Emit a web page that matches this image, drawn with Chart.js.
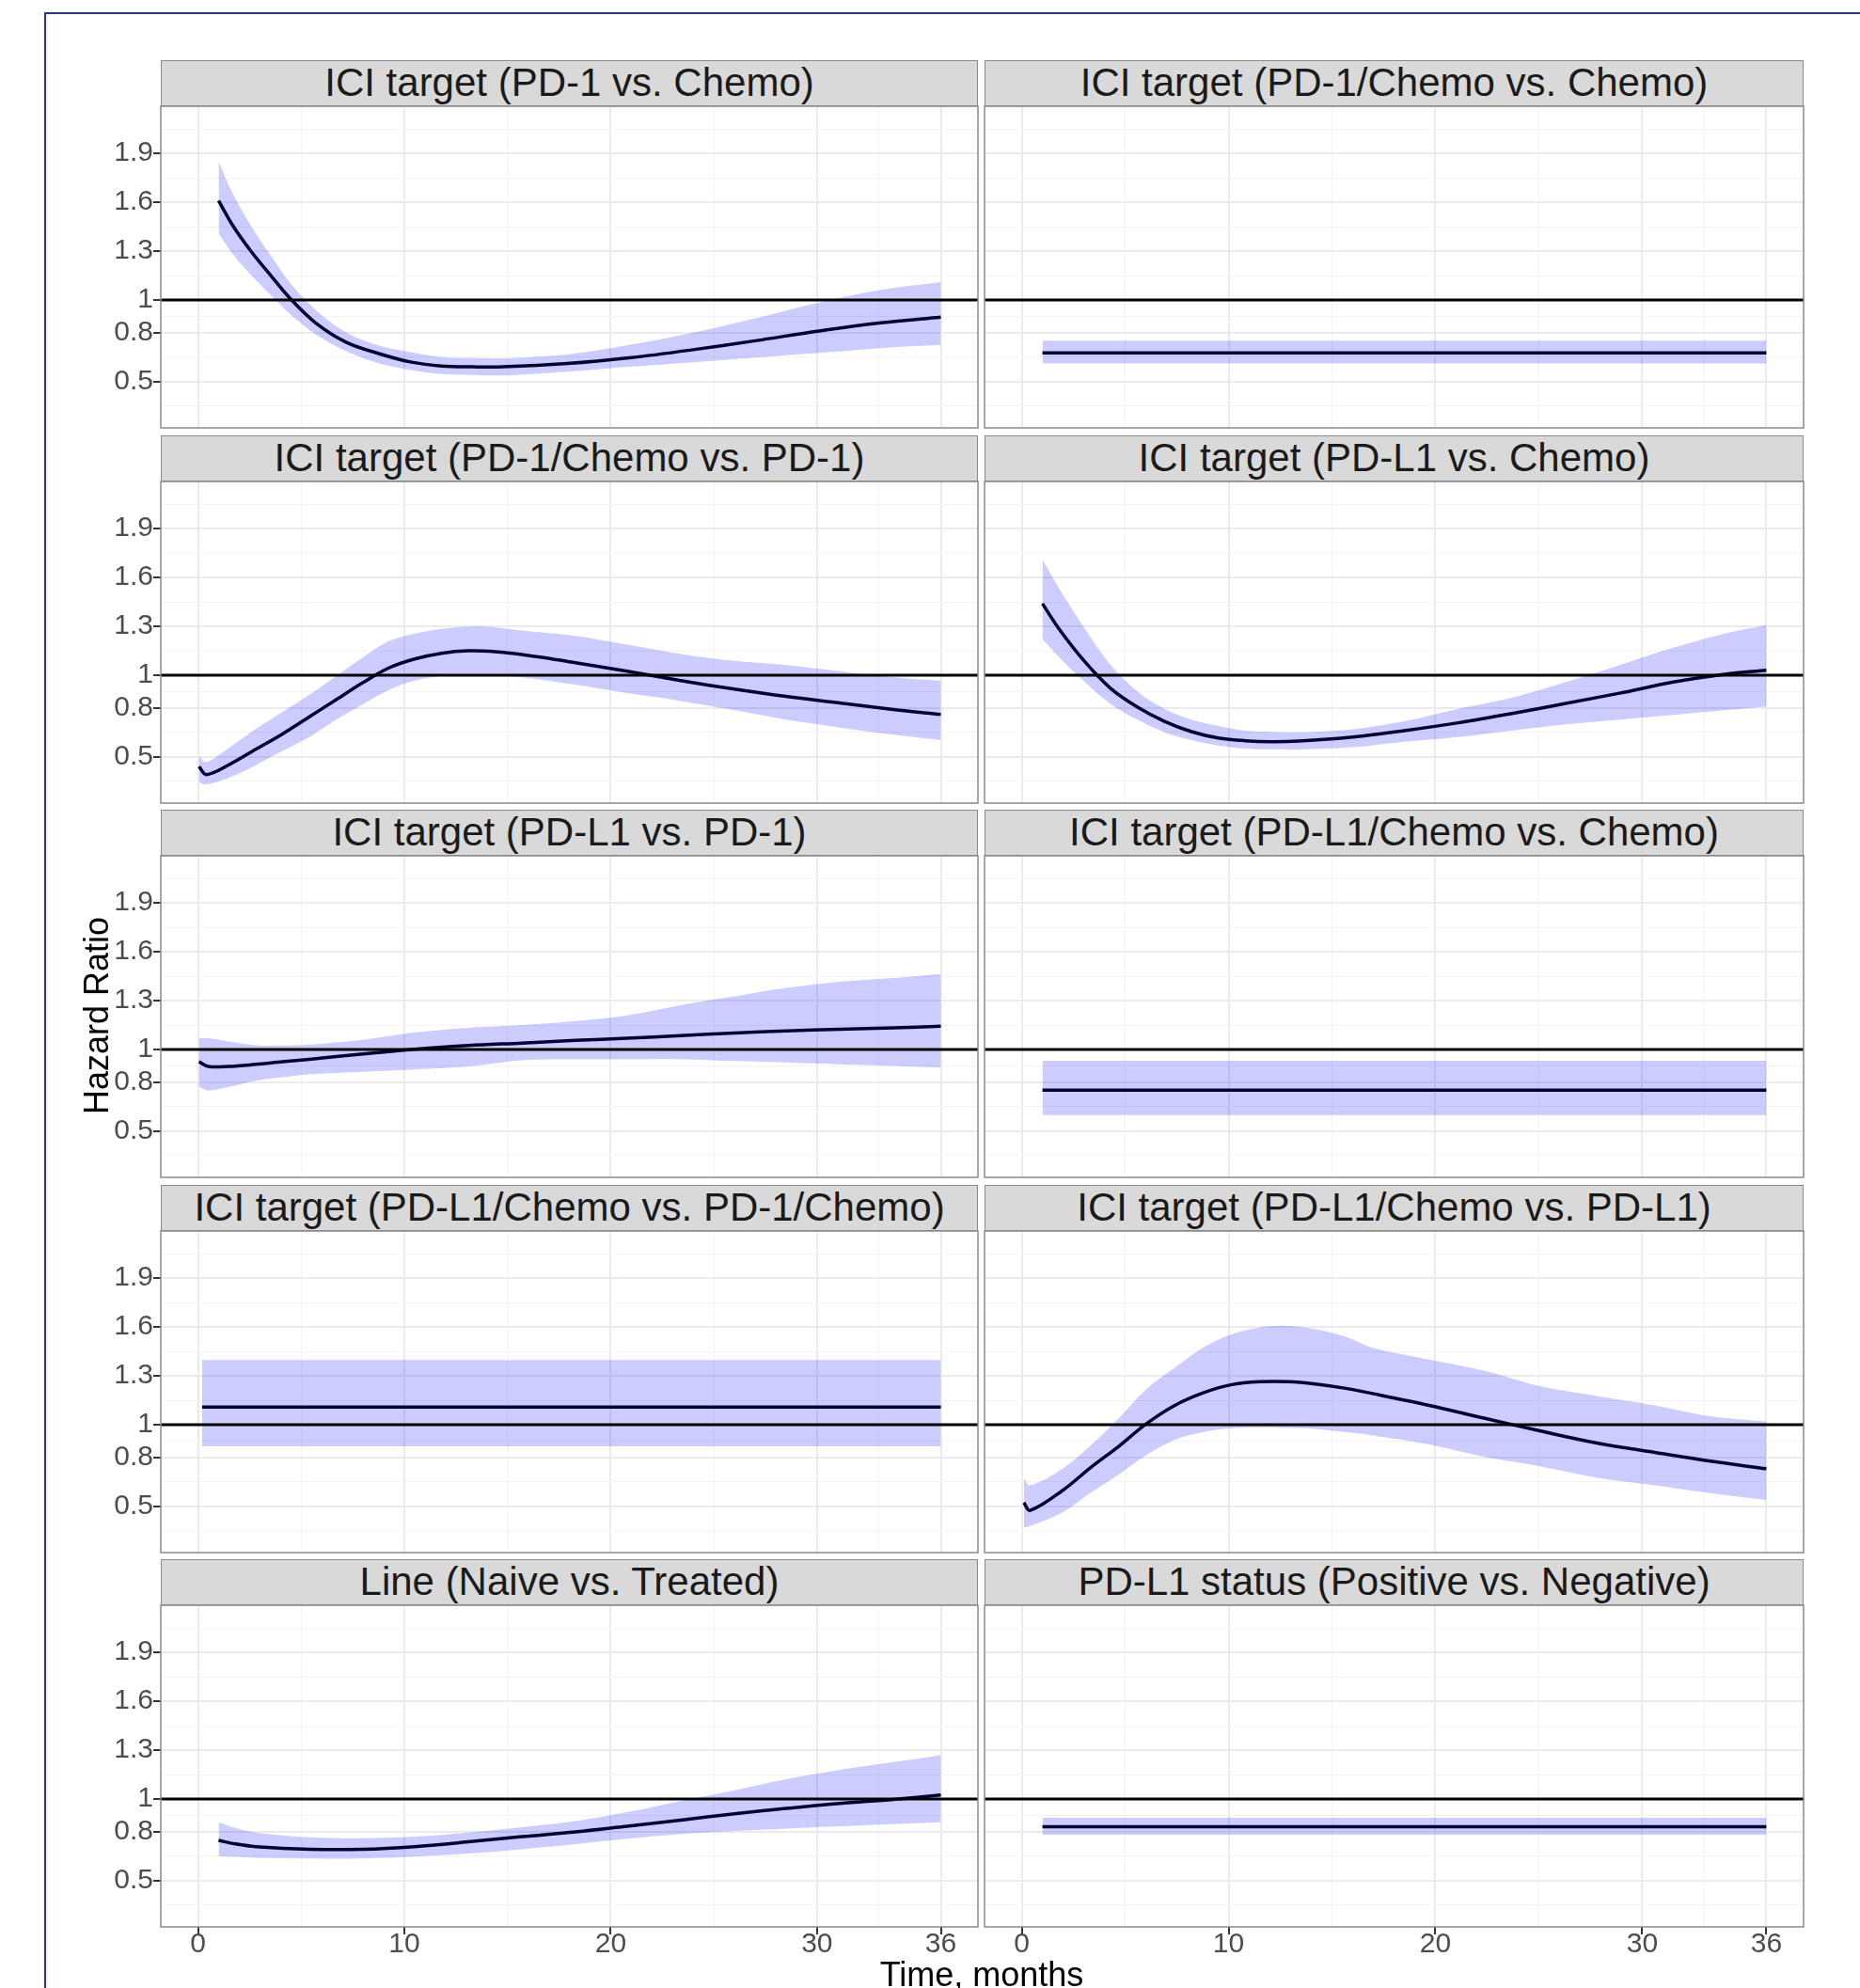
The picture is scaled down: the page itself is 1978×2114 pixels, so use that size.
<!DOCTYPE html>
<html>
<head>
<meta charset="utf-8">
<script src="https://cdn.jsdelivr.net/npm/chart.js@4.4.1/dist/chart.umd.min.js"></script>
<style>
html,body{margin:0;padding:0;background:#fff;width:1978px;height:2114px;overflow:hidden;font-family:'Liberation Sans',Arial,sans-serif;}
#frame{position:absolute;left:47px;top:13px;width:2000px;height:2200px;border:2px solid #2e3192;}
.strip{position:absolute;height:49px;background:#d9d9d9;border:1.5px solid #8a8a8a;box-sizing:border-box;text-align:center;font-size:42px;line-height:46px;color:#1a1a1a;white-space:nowrap;}
canvas{position:absolute;}
#ylab{position:absolute;left:103px;top:1080px;font-size:36px;line-height:36px;white-space:nowrap;color:#000;transform:translate(-50%,-50%) rotate(-90deg);}
#xlab{position:absolute;left:1044px;top:2082px;font-size:36px;line-height:36px;white-space:nowrap;color:#000;transform:translateX(-50%);}
</style>
</head>
<body>
<div id="frame"></div>
<div id="wrap"></div>
<div id="ylab">Hazard Ratio</div>
<div id="xlab">Time, months</div>
<script>
Chart.defaults.font.family = "'Liberation Sans', Arial, sans-serif";

// axis breaks (ggplot style major / minor)
const xMajor = [0, 10, 20, 30, 36];
const xMinor = [5, 15, 25, 33];
const yMajor = [0.5, 0.8, 1, 1.3, 1.6, 1.9];
const yMinor = [0.35, 0.65, 0.9, 1.15, 1.45, 1.75, 2.05];
const xRange = [-1.8, 37.8];
const yRange = [0.215, 2.19];

const titles = [
  'ICI target (PD-1 vs. Chemo)',
  'ICI target (PD-1/Chemo vs. Chemo)',
  'ICI target (PD-1/Chemo vs. PD-1)',
  'ICI target (PD-L1 vs. Chemo)',
  'ICI target (PD-L1 vs. PD-1)',
  'ICI target (PD-L1/Chemo vs. Chemo)',
  'ICI target (PD-L1/Chemo vs. PD-1/Chemo)',
  'ICI target (PD-L1/Chemo vs. PD-L1)',
  'Line (Naive vs. Treated)',
  'PD-L1 status (Positive vs. Negative)'
];

// reference line HR = 1
const refX = [-1.8, 37.8];
const refHR = [1, 1];

// PD-1 vs. Chemo
const tA  = [1, 1.7, 2.6, 3.6, 4.5, 5.7, 7.2, 8.8, 10.3, 11.8, 13.3, 14.8, 17.9, 20.9, 24.0, 27.0, 30.1, 33.1, 36];
const hrA = [1.61, 1.455, 1.295, 1.14, 1.005, 0.86, 0.74, 0.67, 0.62, 0.595, 0.59, 0.59, 0.61, 0.645, 0.695, 0.75, 0.81, 0.86, 0.895];
const hiA = [1.85, 1.65, 1.45, 1.26, 1.10, 0.94, 0.80, 0.72, 0.68, 0.65, 0.645, 0.643, 0.666, 0.724, 0.80, 0.888, 0.985, 1.062, 1.11];
const loA = [1.41, 1.28, 1.15, 1.02, 0.91, 0.79, 0.685, 0.61, 0.57, 0.545, 0.54, 0.537, 0.56, 0.59, 0.618, 0.647, 0.676, 0.705, 0.724];

// PD-1/Chemo vs. Chemo
const tB  = [1, 36];
const hrB = [0.675, 0.675];
const hiB = [0.75, 0.75];
const loB = [0.61, 0.61];

// PD-1/Chemo vs. PD-1
const tC  = [0.05, 0.4, 1.5, 2.8, 4.1, 5.4, 6.7, 8.0, 9.25, 10.5, 11.8, 13.1, 14.4, 15.7, 18.3, 20.8, 23.4, 26.0, 28.5, 31.1, 33.7, 36];
const hrC = [0.44, 0.39, 0.45, 0.545, 0.64, 0.745, 0.85, 0.955, 1.045, 1.10, 1.135, 1.15, 1.145, 1.127, 1.077, 1.025, 0.967, 0.915, 0.87, 0.83, 0.79, 0.76];
const hiC = [0.505, 0.467, 0.554, 0.67, 0.775, 0.88, 0.995, 1.11, 1.21, 1.255, 1.285, 1.298, 1.294, 1.275, 1.242, 1.188, 1.131, 1.088, 1.063, 1.025, 0.987, 0.967];
const loC = [0.342, 0.33, 0.371, 0.448, 0.535, 0.621, 0.727, 0.823, 0.91, 0.967, 0.996, 1.006, 1.0, 0.987, 0.942, 0.89, 0.842, 0.785, 0.727, 0.679, 0.635, 0.602];

// PD-L1 vs. Chemo
const tD  = [1, 1.8, 3.05, 4.3, 5.6, 6.9, 8.2, 9.5, 10.8, 12.1, 13.4, 16.0, 18.5, 21.1, 23.7, 26.3, 28.9, 31.5, 34.0, 36];
const hrD = [1.44, 1.285, 1.083, 0.919, 0.804, 0.717, 0.654, 0.615, 0.598, 0.592, 0.596, 0.621, 0.66, 0.708, 0.765, 0.827, 0.89, 0.958, 1.006, 1.031];
const hiD = [1.71, 1.535, 1.285, 1.063, 0.90, 0.794, 0.727, 0.688, 0.66, 0.653, 0.65, 0.669, 0.717, 0.794, 0.862, 0.958, 1.063, 1.169, 1.256, 1.308];
const loD = [1.223, 1.112, 0.958, 0.823, 0.727, 0.65, 0.602, 0.569, 0.55, 0.545, 0.544, 0.558, 0.592, 0.621, 0.66, 0.698, 0.727, 0.756, 0.785, 0.808];

// PD-L1 vs. PD-1
const tE  = [0.05, 0.5, 1.5, 2.8, 4.1, 5.4, 8.0, 10.5, 13.1, 15.7, 18.3, 20.8, 23.4, 26.0, 28.5, 31.1, 33.7, 36];
const hrE = [0.925, 0.896, 0.896, 0.909, 0.925, 0.94, 0.973, 1.002, 1.025, 1.04, 1.056, 1.069, 1.085, 1.102, 1.114, 1.125, 1.133, 1.143];
const hiE = [1.069, 1.069, 1.05, 1.027, 1.025, 1.031, 1.06, 1.104, 1.133, 1.15, 1.175, 1.21, 1.272, 1.326, 1.378, 1.416, 1.439, 1.464];
const loE = [0.771, 0.748, 0.771, 0.809, 0.83, 0.848, 0.863, 0.877, 0.896, 0.934, 0.94, 0.94, 0.94, 0.929, 0.921, 0.909, 0.90, 0.89];

// PD-L1/Chemo vs. Chemo
const tF  = [1, 36];
const hrF = [0.75, 0.75];
const hiF = [0.931, 0.931];
const loF = [0.597, 0.597];

// PD-L1/Chemo vs. PD-1/Chemo
const tG  = [0.2, 36];
const hrG = [1.109, 1.109];
const hiG = [1.398, 1.398];
const loG = [0.868, 0.868];

// PD-L1/Chemo vs. PD-L1
const tH  = [0.1, 0.4, 2.0, 3.3, 4.7, 6.0, 7.4, 8.8, 10.1, 11.5, 12.9, 14.2, 15.6, 16.9, 19.7, 22.4, 25.1, 27.8, 30.6, 33.3, 36];
const hrH = [0.522, 0.474, 0.599, 0.734, 0.869, 1.004, 1.119, 1.197, 1.245, 1.264, 1.264, 1.25, 1.225, 1.193, 1.119, 1.039, 0.961, 0.888, 0.83, 0.776, 0.73];
const hiH = [0.672, 0.628, 0.734, 0.869, 1.042, 1.216, 1.351, 1.476, 1.553, 1.597, 1.607, 1.586, 1.543, 1.476, 1.40, 1.331, 1.235, 1.177, 1.119, 1.052, 1.019];
const loH = [0.368, 0.378, 0.464, 0.58, 0.696, 0.811, 0.908, 0.956, 0.979, 0.985, 0.98, 0.975, 0.955, 0.936, 0.879, 0.802, 0.744, 0.676, 0.628, 0.58, 0.538];

// Line (Naive vs. Treated)
const tI  = [1, 1.8, 2.8, 5.4, 8.0, 10.5, 13.1, 15.7, 18.3, 20.8, 23.4, 26.0, 28.5, 31.1, 33.7, 36];
const hrI = [0.746, 0.725, 0.708, 0.692, 0.692, 0.708, 0.737, 0.769, 0.798, 0.833, 0.871, 0.91, 0.942, 0.973, 0.998, 1.025];
const hiI = [0.858, 0.823, 0.794, 0.765, 0.76, 0.769, 0.794, 0.827, 0.865, 0.919, 0.987, 1.054, 1.121, 1.179, 1.227, 1.269];
const loI = [0.65, 0.645, 0.64, 0.635, 0.635, 0.646, 0.665, 0.692, 0.723, 0.756, 0.785, 0.804, 0.819, 0.833, 0.846, 0.858];

// PD-L1 status (Positive vs. Negative)
const tJ  = [1, 36];
const hrJ = [0.83, 0.83];
const hiJ = [0.885, 0.885];
const loJ = [0.781, 0.781];

const panels = [
  [tA, hrA, loA, hiA], [tB, hrB, loB, hiB],
  [tC, hrC, loC, hiC], [tD, hrD, loD, hiD],
  [tE, hrE, loE, hiE], [tF, hrF, loF, hiF],
  [tG, hrG, loG, hiG], [tH, hrH, loH, hiH],
  [tI, hrI, loI, hiI], [tJ, hrJ, loJ, hiJ]
];

// layout (px)
const colX = [[171, 1040], [1047, 1918]];
const rowTop = [113, 512, 910, 1309, 1707];
const panelH = 342, stripH = 49, yAxisW = 111, xAxisH = 62, PAD = 3;
const FONT = "'Liberation Sans', Arial, sans-serif";

const pts = (t, v) => t.map((x, i) => ({x, y: v[i]}));

const frame = {
  id: 'frame',
  afterDraw(c) {
    const a = c.chartArea, g = c.ctx;
    g.save();
    g.strokeStyle = '#8a8a8a'; g.lineWidth = 1.5;
    g.strokeRect(a.left, a.top, a.right - a.left, a.bottom - a.top);
    g.restore();
  }
};

const wrap = document.getElementById('wrap');

panels.forEach((p, i) => {
  const col = i % 2, row = Math.floor(i / 2);
  const [x0, x1] = colX[col];
  const leftCol = col === 0, bottom = row === 4;

  const s = document.createElement('div');
  s.className = 'strip';
  s.style.left = x0 + 'px'; s.style.top = (rowTop[row] - stripH) + 'px';
  s.style.width = (x1 - x0) + 'px';
  s.textContent = titles[i];
  wrap.appendChild(s);

  const cv = document.createElement('canvas');
  const cl = x0 - (leftCol ? yAxisW : 0) - PAD;
  const cw = (x1 - cl) + PAD;
  const ch = panelH + 2 * PAD + (bottom ? xAxisH : 0);
  cv.width = cw; cv.height = ch;
  cv.style.left = cl + 'px'; cv.style.top = (rowTop[row] - PAD) + 'px';
  cv.style.width = cw + 'px'; cv.style.height = ch + 'px';
  wrap.appendChild(cv);

  const [t, hr, lo, hi] = p;
  const isXMaj = c => c.tick && xMajor.includes(c.tick.value);
  const isYMaj = c => c.tick && yMajor.includes(c.tick.value);

  new Chart(cv.getContext('2d'), {
    type: 'line',
    data: {
      datasets: [
        { data: pts(refX, refHR), borderColor: '#000', borderWidth: 3, pointRadius: 0, order: 0 },
        { data: pts(t, hi), borderColor: 'rgba(0,0,0,0)', borderWidth: 0, pointRadius: 0,
          backgroundColor: 'rgba(0,0,255,0.2)', fill: '+1', tension: 0.35, order: 1 },
        { data: pts(t, lo), borderColor: 'rgba(0,0,0,0)', borderWidth: 0, pointRadius: 0,
          fill: false, tension: 0.35, order: 1 },
        { data: pts(t, hr), borderColor: '#000', borderWidth: 3.5, pointRadius: 0,
          fill: false, tension: 0.35, order: 2 }
      ]
    },
    options: {
      responsive: false, animation: false, devicePixelRatio: 1,
      layout: { padding: PAD },
      plugins: { legend: { display: false }, tooltip: { enabled: false } },
      scales: {
        x: {
          type: 'linear', min: xRange[0], max: xRange[1],
          afterBuildTicks: sc => { sc.ticks = [...xMajor, ...xMinor].sort((a, b) => a - b).map(v => ({value: v})); },
          afterFit: sc => { sc.height = bottom ? xAxisH : 0; sc.paddingLeft = 0; sc.paddingRight = 0; },
          border: { display: false },
          grid: {
            color: c => isXMaj(c) ? '#ebebeb' : '#f3f3f3',
            lineWidth: c => isXMaj(c) ? 2 : 1,
            drawTicks: bottom, tickLength: 8, tickWidth: 2,
            tickColor: c => isXMaj(c) ? '#333333' : 'rgba(0,0,0,0)'
          },
          ticks: {
            display: bottom, autoSkip: false, maxRotation: 0, padding: -7,
            color: '#4d4d4d', font: { size: 30, family: FONT },
            callback: v => xMajor.includes(v) ? String(v) : ''
          }
        },
        y: {
          type: 'linear', min: yRange[0], max: yRange[1],
          afterBuildTicks: sc => { sc.ticks = [...yMajor, ...yMinor].sort((a, b) => a - b).map(v => ({value: v})); },
          afterFit: sc => { sc.width = leftCol ? yAxisW : 0; sc.paddingTop = 0; sc.paddingBottom = 0; },
          border: { display: false },
          grid: {
            color: c => isYMaj(c) ? '#ebebeb' : '#f3f3f3',
            lineWidth: c => isYMaj(c) ? 2 : 1,
            drawTicks: leftCol, tickLength: 8, tickWidth: 2,
            tickColor: c => isYMaj(c) ? '#333333' : 'rgba(0,0,0,0)'
          },
          ticks: {
            display: leftCol, autoSkip: false, padding: 0,
            color: '#4d4d4d', font: { size: 30, family: FONT },
            callback: v => yMajor.includes(v) ? String(v) : ''
          }
        }
      }
    },
    plugins: [frame]
  });
});
</script>
</body>
</html>
